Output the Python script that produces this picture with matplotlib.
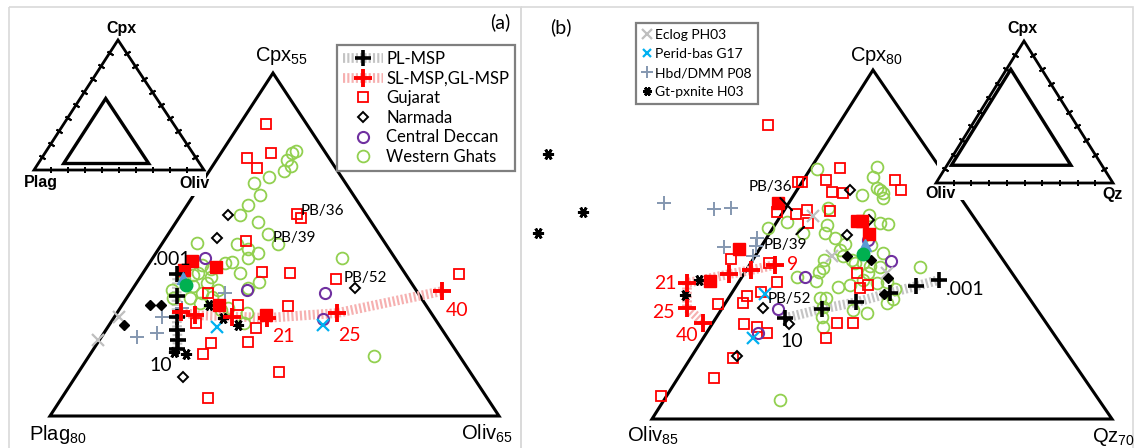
import numpy as np
import matplotlib
matplotlib.use("Agg")
import matplotlib.pyplot as plt
from matplotlib.lines import Line2D
from matplotlib.patches import Polygon, Rectangle
from matplotlib.transforms import Affine2D

plt.rcParams["mathtext.fontset"] = "custom"
plt.rcParams["mathtext.rm"] = "Liberation Sans"
plt.rcParams["font.family"] = ["Lato", "DejaVu Sans"]

# ---------------------------------------------------------------------------
# Panel (a): Plag-Cpx-Oliv, compositions as (Cpx %, Oliv %); Plag = 100 - both
# ---------------------------------------------------------------------------
a_pl_msp = [(25.7, 18.9), (22.5, 20.4), (19.5, 21.9), (17.6, 22.9), (16.1, 23.7), (14.8, 24.3)]
a_sl_msp = [(20.2, 22.0), (19.7, 23.9), (19.5, 28.1), (19.3, 32.1), (20.0, 39.5), (23.2, 49.6)]
a_gujarat = [(47.6, 17.9), (42.6, 18.3), (43.4, 20.5), (41.2, 20.1), (34.5, 27.9), (33.9, 28.6),
             (30.5, 24.2), (26.0, 28.2), (25.9, 31.4), (24.9, 37.0), (25.7, 50.3), (23.0, 23.6),
             (18.6, 24.5), (21.2, 27.9), (21.1, 33.5), (17.9, 31.5), (15.8, 31.7), (15.7, 27.6),
             (14.1, 27.5), (11.4, 37.3), (7.6, 31.3)]
a_gujarat_mean = [(27.6, 19.6), (26.3, 19.3), (26.7, 22.7), (21.2, 25.8), (19.7, 31.7)]
a_narmada = [(34.3, 20.3), (31.0, 20.7), (23.7, 39.7), (10.7, 27.0)]
a_narmada_mean = [(21.2, 18.1), (21.2, 19.3), (18.3, 16.6)]
a_deccan = [(28.1, 20.8), (23.4, 27.8), (23.0, 36.7), (19.2, 38.4)]
a_deccan_mean = [(25.1, 19.8)]
a_ghats = [(42.3, 22.9), (43.4, 22.9), (43.7, 23.2), (41.5, 23.7), (40.7, 23.3), (39.9, 22.0),
           (39.0, 20.8), (37.2, 22.4), (35.8, 21.8), (34.3, 21.6), (33.3, 24.1), (31.6, 26.1),
           (30.0, 23.4), (29.4, 24.9), (28.1, 25.6), (28.8, 26.3), (27.3, 23.4), (27.5, 24.1),
           (25.9, 25.8), (23.7, 27.8), (24.6, 28.5), (25.9, 21.1), (24.4, 22.9), (23.4, 24.6),
           (22.4, 24.4), (22.2, 22.1), (22.2, 20.1), (23.4, 19.5), (27.0, 21.0), (25.3, 22.8),
           (25.6, 20.7), (20.5, 26.3), (20.8, 27.0), (20.0, 29.5), (18.6, 29.8), (28.1, 36.0),
           (13.8, 46.7), (30.1, 27.9), (30.2, 18.8), (24.9, 20.0), (24.0, 21.5), (23.0, 23.0),
           (26.5, 22.2), (21.5, 23.5)]
a_ghats_mean = [(24.1, 20.7)]
a_eclog = [(16.1, 14.8), (19.5, 15.5)]
a_perid = [(18.0, 27.1), (18.3, 38.8)]
a_hbd = [(16.5, 19.0), (17.1, 20.9), (19.5, 20.3), (23.0, 25.6), (20.8, 21.9)]
a_gtpx = [(21.2, 24.7), (19.3, 27.2), (18.3, 29.3), (14.4, 24.1), (14.1, 25.6)]

# ---------------------------------------------------------------------------
# Panel (b): Oliv-Cpx-Qz, compositions as (Cpx %, Qz %); Oliv = 100 - both
# ---------------------------------------------------------------------------
b_pl_msp = [(32.0, 12.6), (33.8, 17.2), (35.1, 21.6), (36.9, 25.7), (38.2, 28.9), (39.4, 31.7)]
b_sl_msp = [(42.3, 6.2), (41.3, 3.2), (40.5, 0.3), (38.8, -5.0), (34.0, -2.7), (31.1, 1.1)]
b_gujarat = [(69.3, -7.8), (58.3, 1.9), (61.0, 6.8), (58.7, 5.8), (58.3, 2.5), (56.4, 7.8),
             (56.2, 9.5), (58.7, 15.9), (56.8, 17.8), (52.9, 5.8), (52.1, 4.6), (50.4, 7.2),
             (52.7, 9.3), (52.5, 1.6), (43.4, -0.7), (42.7, 5.1), (39.0, 8.1), (36.3, 5.0),
             (34.9, 5.1), (37.1, 6.7), (34.8, 1.5), (30.9, 7.2), (30.3, 9.3), (29.1, 11.4),
             (40.7, 19.0), (38.4, 21.7), (37.8, 20.9), (31.1, 20.7), (31.1, 23.1), (28.2, 20.5),
             (17.0, 1.6), (20.4, 7.8), (24.3, 8.7)]
b_gujarat_mean = [(54.3, 0.9), (45.4, -0.5), (39.2, -1.8), (50.8, 14.2), (50.8, 14.9), (48.3, 17.1)]
b_narmada = [(56.8, 10.3), (48.1, 14.0), (51.0, 15.9), (34.0, 8.4), (30.9, 13.8), (24.7, 9.1)]
b_narmada_mean = [(44.0, 16.0), (43.3, 19.8), (39.8, 24.0), (36.7, 24.9)]
b_deccan = [(47.1, 17.6), (43.1, 22.9), (40.0, 11.7), (33.8, 10.8), (29.1, 10.1)]
b_deccan_mean = [(46.2, 17.6)]
b_ghats = [(60.8, 3.5), (61.2, 12.1), (59.3, 12.4), (57.2, 14.0), (56.8, 14.7), (55.2, 15.9),
           (56.2, 15.4), (55.8, 12.5), (49.4, 1.8), (50.6, 4.0), (48.5, 7.4), (53.3, 8.7),
           (50.0, 10.1), (48.5, 10.6), (47.5, 12.6), (46.3, 14.6), (45.2, 14.4), (44.0, 15.4),
           (43.3, 13.0), (41.7, 13.6), (40.9, 13.4), (39.2, 13.8), (43.3, 17.1), (42.7, 17.8),
           (42.7, 19.0), (42.1, 20.3), (41.9, 21.9), (44.6, 21.0), (38.8, 22.9), (39.0, 24.2),
           (37.6, 26.1), (35.7, 26.7), (34.9, 26.2), (38.0, 17.6), (38.4, 19.1), (39.4, 20.5),
           (40.7, 20.7), (33.6, 21.9), (33.0, 24.2), (35.9, 15.9), (35.9, 16.8), (34.2, 17.2),
           (32.2, 18.0), (30.3, 19.0), (50.4, 17.8), (50.2, 19.0), (52.0, 15.3), (46.2, 18.4),
           (41.9, 27.7), (40.0, 10.6), (16.1, 19.5)]
b_ghats_mean = [(44.4, 18.2)]
b_eclog = [(51.8, 7.3), (44.0, 13.8), (40.7, 23.4)]
b_perid = [(36.7, 7.4), (28.2, 9.8)]
b_hbd = [(54.3, -15.8), (53.1, -7.9), (53.3, -5.5), (47.5, 1.1), (46.0, 1.7), (45.8, -2.9), (44.0, 2.2)]
b_gtpx = [(63.7, -37.4), (52.5, -26.9), (48.5, -31.5), (39.4, -3.5), (36.5, -4.2)]

pl_labels = [".001", "10"]
sl_labels_a = ["21", "25", "40"]
sl_labels_b = ["9", "21", "25", "40"]

# ---------------------------------------------------------------------------
W, H = 1135, 448
fig = plt.figure(figsize=(W / 100, H / 100), dpi=100)
ax = fig.add_axes([0, 0, 1, 1])
ax.set_xlim(0, W)
ax.set_ylim(H, 0)
ax.axis("off")

ARIAL = "Liberation Sans"
RED = "#ff0000"


def tri_transform(top, left, right, xmin=0.0, ymin=0.0, side=100.0):
    """(right-apex %, top-apex %) -> canvas, for a triangle drawn at the given corners."""
    (tx, ty), (lx, ly), (rx, ry) = top, left, right
    m = np.array([[(rx - lx) / 100, (tx - lx) / 100, lx],
                  [(ry - ly) / 100, (ty - ly) / 100, ly],
                  [0, 0, 1]])
    return (Affine2D().translate(-xmin, -ymin).scale(100.0 / side)
            + Affine2D(m) + ax.transData)


# main diagrams: sub-triangles of the full ternary
TA = tri_transform((273, 73), (50, 416), (499, 416), xmin=15, ymin=5, side=50)      # Oliv, Cpx
TB = tri_transform((873, 70), (652, 419), (1112, 419), xmin=2.5, ymin=12.5, side=67.5)  # Qz, Cpx

# panel frames
ax.add_patch(Rectangle((8.5, 7.5), 512, 460, fill=False, ec="#d9d9d9", lw=1.2, zorder=0))
ax.add_patch(Rectangle((520.5, 7.5), 612, 460, fill=False, ec="#d9d9d9", lw=1.2, zorder=0))

ax.add_patch(Polygon([[15, 5], [65, 5], [15, 55]], closed=True, fill=False, ec="k", lw=2.2,
                     joinstyle="miter", transform=TA, zorder=2))
ax.add_patch(Polygon([[2.5, 12.5], [70, 12.5], [2.5, 80]], closed=True, fill=False, ec="k", lw=2.2,
                     joinstyle="miter", transform=TB, zorder=2))


def pts(T, data, **kw):
    d = np.asarray(data, float)
    return ax.plot(d[:, 1], d[:, 0], ls="none", transform=T, **kw)[0]


def band(T, data, color):
    d = np.asarray(data, float)
    return ax.plot(d[:, 1], d[:, 0], color=color, lw=7, ls=(0, (0.22, 0.22)),
                   solid_capstyle="butt", transform=T, zorder=3)[0]


S = dict(
    gujarat=dict(marker="s", ms=7, mfc="none", mec=RED, mew=1.3, zorder=4),
    gujarat_mean=dict(marker="s", ms=8, mfc=RED, mec=RED, mew=1, zorder=6),
    narmada=dict(marker="D", ms=5, mfc="none", mec="k", mew=1.4, zorder=5),
    narmada_mean=dict(marker="D", ms=5, mfc="k", mec="k", mew=1, zorder=6),
    deccan=dict(marker="o", ms=8, mfc="none", mec="#7030a0", mew=1.5, zorder=5),
    deccan_mean=dict(marker="^", ms=8, mfc="#5b9bd5", mec="#5b9bd5", zorder=7),
    ghats=dict(marker="o", ms=8.5, mfc="none", mec="#92d050", mew=1.3, zorder=4),
    ghats_mean=dict(marker="o", ms=9, mfc="#00b050", mec="#00b050", zorder=7),
    eclog=dict(marker="x", ms=9, mec="#bfbfbf", mew=1.6, zorder=5),
    perid=dict(marker="x", ms=8, mec="#00b0f0", mew=1.6, zorder=5),
    hbd=dict(marker="+", ms=10, mec="#8497b0", mew=1.4, zorder=5),
    gtpx=dict(marker=(6, 2, 90), ms=8, mec="k", mew=2.0, zorder=6),
    pl=dict(marker="+", ms=12, mec="k", mew=2.6, zorder=6),
    sl=dict(marker="+", ms=13, mec=RED, mew=2.8, zorder=6),
)

for T, grp in ((TA, dict(gujarat=a_gujarat, gujarat_mean=a_gujarat_mean, narmada=a_narmada,
                          narmada_mean=a_narmada_mean, deccan=a_deccan, deccan_mean=a_deccan_mean,
                          ghats=a_ghats, ghats_mean=a_ghats_mean, eclog=a_eclog, perid=a_perid,
                          hbd=a_hbd, gtpx=a_gtpx)),
               (TB, dict(gujarat=b_gujarat, gujarat_mean=b_gujarat_mean, narmada=b_narmada,
                         narmada_mean=b_narmada_mean, deccan=b_deccan, deccan_mean=b_deccan_mean,
                         ghats=b_ghats, ghats_mean=b_ghats_mean, eclog=b_eclog, perid=b_perid,
                         hbd=b_hbd, gtpx=b_gtpx))):
    for key in ("ghats", "gujarat", "narmada", "deccan", "eclog", "perid", "hbd", "gtpx",
                "gujarat_mean", "narmada_mean", "deccan_mean", "ghats_mean"):
        pts(T, grp[key], **S[key])

# melting paths
band(TA, a_pl_msp, "#c4c4c4")
band(TA, a_sl_msp, "#f6b0b0")
band(TB, b_pl_msp, "#c4c4c4")
band(TB, b_sl_msp, "#f6b0b0")
pts(TA, a_pl_msp, **S["pl"])
pts(TA, a_sl_msp, **S["sl"])
pts(TB, b_pl_msp, **S["pl"])
pts(TB, b_sl_msp, **S["sl"])


def tag(T, p, text, dx, dy, color="k", size=14, **kw):
    ax.annotate(text, xy=(p[1], p[0]), xycoords=T, xytext=(dx, dy), textcoords="offset pixels",
                ha="center", va="center", color=color, fontsize=size, zorder=8, **kw)


tag(TA, a_pl_msp[0], pl_labels[0], -5, 14)
tag(TA, a_pl_msp[-1], pl_labels[1], -16, -17)
for p, s, (dx, dy) in zip(a_sl_msp[3:], sl_labels_a, [(16, -19), (13, -22), (15, -19)]):
    tag(TA, p, s, dx, dy, color=RED)
tag(TB, b_pl_msp[-1], pl_labels[0], 26, -10)
tag(TB, b_pl_msp[0], pl_labels[1], 7, -23)
for p, s, (dx, dy) in zip([b_sl_msp[0], b_sl_msp[3], b_sl_msp[4], b_sl_msp[5]], sl_labels_b,
                          [(18, 0), (-22, 0), (-24, -5), (-16, -13)]):
    tag(TB, p, s, dx, dy, color=RED)

# sample labels
tag(TA, a_gujarat[5], "PB/36", 21, 7, size=11)
tag(TA, a_gujarat[6], "PB/39", 48, 3, size=11)
tag(TA, a_narmada[2], "PB/52", 10, 10, size=11)
arrow = dict(arrowstyle="-", lw=1.5, color="k", shrinkA=1, shrinkB=4)
tag(TB, b_gujarat[10], "PB/36", -26, 27, size=11, arrowprops=arrow)
tag(TB, b_gujarat[11], "PB/39", -23, -22, size=11, arrowprops=arrow)
tag(TB, b_deccan[3], "PB/52", 11, 10, size=11)


# corner labels of the main diagrams
def corner(T, p, text, dx, dy, ha="center"):
    ax.annotate(text, xy=p, xycoords=T, xytext=(dx, dy), textcoords="offset pixels",
                ha=ha, va="baseline", fontsize=14.5, family=ARIAL, zorder=8)


corner(TA, (15, 55), "Cpx$_\\mathregular{55}$", 9, 12)
corner(TA, (15, 5), "Plag$_\\mathregular{80}$", 8, -24)
corner(TA, (65, 5), "Oliv$_\\mathregular{65}$", -12, -24)
corner(TB, (2.5, 80), "Cpx$_\\mathregular{80}$", 4, 9)
corner(TB, (2.5, 12.5), "Oliv$_\\mathregular{85}$", 1, -23)
corner(TB, (70, 12.5), "Qz$_\\mathregular{70}$", 1, -23)


# index triangles in the corners
def index_triangle(top, left, right, inner, labels, offsets, cover):
    ax.add_patch(Rectangle(cover[0], cover[1], cover[2], fc="white", ec="none", zorder=9))
    T = tri_transform(top, left, right)
    ax.add_patch(Polygon([[0, 0], [100, 0], [0, 100]], closed=True, fill=False, ec="k", lw=2.0,
                         joinstyle="miter", transform=T, zorder=10))
    ax.add_patch(Polygon(inner, closed=True, fill=False, ec="k", lw=2.4,
                         joinstyle="miter", transform=T, zorder=10))
    f = np.arange(10, 100, 10)
    for (x0, y0), (x1, y1), e0, e1 in (((0, 0), (100, 0), left, right),
                                       ((100, 0), (0, 100), right, top),
                                       ((0, 100), (0, 0), top, left)):
        ang = np.degrees(np.arctan2(-(e1[1] - e0[1]), e1[0] - e0[0]))
        xs = x0 + (x1 - x0) * f / 100
        ys = y0 + (y1 - y0) * f / 100
        ax.plot(xs, ys, ls="none", marker=(2, 2, ang), ms=5, mew=1.4, mec="k",
                transform=T, zorder=10)
    for (px, py), text, (dx, dy) in zip([(0, 100), (0, 0), (100, 0)], labels, offsets):
        ax.annotate(text, xy=(px, py), xycoords=T, xytext=(dx, dy), textcoords="offset pixels",
                    ha="center", va="center", fontsize=11.5, fontweight="bold", family=ARIAL,
                    zorder=11)


index_triangle((118, 40), (34, 170), (204, 170), [[15, 5], [65, 5], [15, 55]],
               ["Cpx", "Plag", "Oliv"], [(3, 12), (7, -13), (-9, -13)],
               ((10, 10), 196, 186))
index_triangle((1024, 41), (936, 183), (1113, 183), [[2.5, 12.5], [70, 12.5], [2.5, 80]],
               ["Cpx", "Oliv", "Qz"], [(-2, 12), (5, -10), (0, -12)],
               ((937, 12), 194, 188))

# panel tags
ax.text(500, 22, "(a)", ha="center", va="center", fontsize=14, zorder=11)
ax.text(561, 27, "(b)", ha="center", va="center", fontsize=14, zorder=11)


# legends
def handle(key):
    kw = dict(S[key])
    kw.pop("zorder", None)
    return Line2D([], [], ls="none", **kw)


def band_handle(color):
    return Line2D([], [], color=color, lw=7, ls=(0, (0.22, 0.22)), solid_capstyle="butt")


leg_a = ax.legend(
    [(band_handle("#c4c4c4"), handle("pl")), (band_handle("#f6b0b0"), handle("sl")),
     handle("gujarat"), handle("narmada"), handle("deccan"), handle("ghats")],
    ["PL-MSP", "SL-MSP,GL-MSP", "Gujarat", "Narmada", "Central Deccan", "Western Ghats"],
    loc="upper left", bbox_to_anchor=(337 / W, 1 - 45 / H), bbox_transform=fig.transFigure,
    borderaxespad=0, fancybox=False, edgecolor="#7f7f7f", framealpha=1,
    prop=dict(family="Lato", size=12), handlelength=2.4, handletextpad=0.2,
    borderpad=0.35, labelspacing=0.22)
leg_a.get_frame().set_linewidth(1.6)
leg_a.set_zorder(12)
ax.add_artist(leg_a)

leg_b = ax.legend(
    [handle("eclog"), handle("perid"), handle("hbd"), handle("gtpx")],
    ["Eclog PH03", "Perid-bas G17", "Hbd/DMM P08", "Gt-pxnite H03"],
    loc="upper left", bbox_to_anchor=(636 / W, 1 - 23 / H), bbox_transform=fig.transFigure,
    borderaxespad=0, fancybox=False, edgecolor="#7f7f7f", framealpha=1,
    prop=dict(family="Lato", size=10), handlelength=0.7, handletextpad=0.2,
    borderpad=0.45, labelspacing=0.5, markerscale=0.8)
leg_b.get_frame().set_linewidth(1.6)
leg_b.set_zorder(12)

fig.savefig("out.png", dpi=100)
